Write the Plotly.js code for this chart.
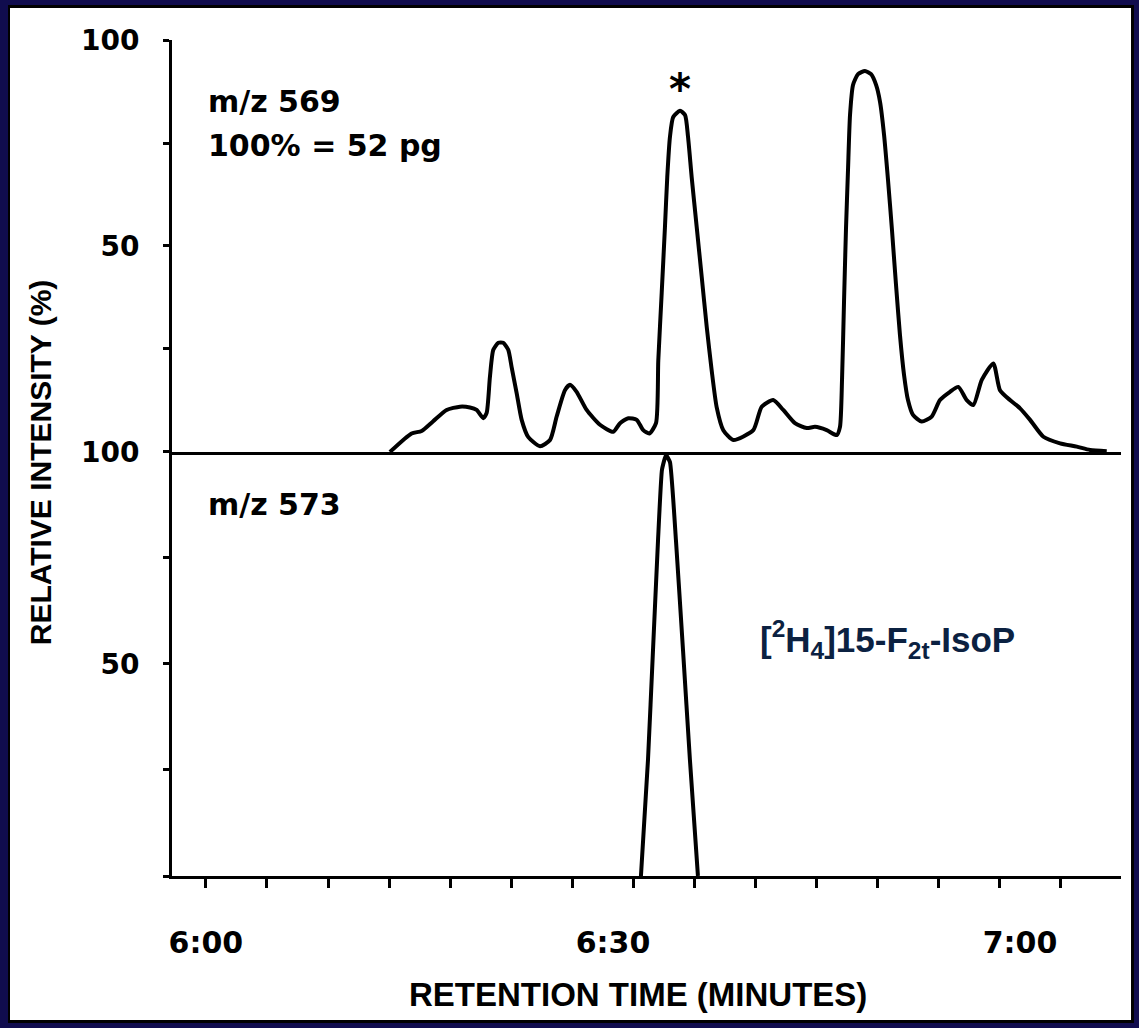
<!DOCTYPE html>
<html>
<head>
<meta charset="utf-8">
<script src="https://cdn.plot.ly/plotly-3.0.1.min.js"></script>
<style>
  html, body { margin: 0; padding: 0; background: #100c4e; width: 1139px; height: 1028px; overflow: hidden; }
  #frame { position: absolute; left: 8px; top: 5px; width: 1126px; height: 1018px; box-sizing: border-box; border: 3px solid #000; background: #fff; }
  #plot { position: absolute; left: 10px; top: 8px; width: 1121px; height: 1012px; }
</style>
</head>
<body>
<div id="frame"></div>
<div id="plot"></div>
<script>
// Retention time in seconds after 6:00 min
const upperTime = [13.56, 15.16, 15.90, 16.73, 17.74, 18.72, 19.46, 19.95, 20.44, 20.69, 20.93, 21.18, 21.55, 21.91, 22.28, 22.53, 22.90, 23.27, 23.76, 24.62, 25.36, 25.85, 26.46, 26.83, 27.32, 28.06, 29.04, 30.02, 30.52, 31.13, 31.75, 32.23, 32.68, 33.17, 33.34, 33.59, 33.83, 34.00, 34.20, 34.44, 34.94, 35.31, 35.53, 35.80, 36.17, 36.54, 36.91, 37.27, 37.64, 38.13, 38.87, 40.34, 40.96, 41.81, 42.55, 43.41, 44.28, 44.89, 45.75, 46.49, 46.73, 46.88, 47.03, 47.17, 47.32, 47.47, 47.69, 48.06, 48.57, 49.02, 49.39, 49.68, 49.98, 50.27, 50.56, 50.86, 51.15, 51.45, 51.74, 52.11, 52.75, 53.49, 54.10, 54.84, 55.45, 56.07, 56.56, 57.18, 58.03, 58.52, 59.26, 60.00, 60.74, 61.72, 62.95, 64.18, 65.16, 66.39];
// m/z 569 relative intensity (%)
const upperIntensity = [0, 4.5, 5.1, 7.4, 10.2, 11.0, 10.8, 10.2, 8.2, 9.5, 18.2, 24.8, 26.5, 26.5, 24.8, 20.6, 14.3, 7.8, 3.6, 1.4, 2.9, 8.6, 15.0, 16.3, 14.6, 10.2, 6.6, 4.9, 7.0, 8.2, 7.8, 5.3, 4.5, 7.0, 22.3, 38.6, 54.6, 66.7, 76.5, 81.3, 82.8, 81.8, 76.5, 66.7, 54.6, 42.5, 30.3, 19.9, 10.9, 5.3, 2.9, 5.3, 11.0, 12.6, 10.2, 7.0, 5.8, 6.1, 5.3, 4.1, 6.1, 17.5, 36.9, 53.9, 68.4, 81.8, 89.1, 91.7, 92.5, 91.7, 89.1, 85.0, 76.9, 66.0, 53.9, 40.5, 28.4, 18.7, 12.6, 9.0, 7.4, 8.6, 12.6, 14.6, 15.8, 12.6, 11.4, 17.5, 21.5, 15.0, 12.6, 10.6, 7.8, 3.7, 2.1, 1.3, 0.5, 0.2];
// m/z 573 ([2H4]15-F2t-IsoP internal standard)
const lowerTime = [32.06, 32.58, 32.95, 33.32, 33.61, 33.91, 34.20, 34.64, 35.16, 35.67, 36.26];
const lowerIntensity = [0, 27.4, 53.3, 79.2, 95.8, 99.3, 97.6, 79.2, 53.3, 27.4, 0];

const xTickVals = [0, 30, 60];
const xTickText = ['6:00', '6:30', '7:00'];
const yTickVals = [50, 100];
const yTickText = ['50', '100'];

const boldFont = { family: 'DejaVu Sans', size: 30, color: '#000', weight: 'bold' };
const split = 0.5072;

const traces = [
  { x: upperTime, y: upperIntensity, xaxis: 'x2', yaxis: 'y2', type: 'scatter', mode: 'lines',
    line: { color: '#000', width: 4, shape: 'spline', smoothing: 0.6 }, hoverinfo: 'skip' },
  { x: lowerTime, y: lowerIntensity, xaxis: 'x', yaxis: 'y', type: 'scatter', mode: 'lines',
    line: { color: '#000', width: 4, shape: 'spline', smoothing: 0.4 }, hoverinfo: 'skip' }
];

const yCommon = {
  range: [0, 100], showgrid: false, zeroline: false, showline: true, linewidth: 3, linecolor: '#000',
  tickmode: 'array', tickvals: yTickVals, ticktext: yTickText, ticks: 'outside', ticklen: 6, tickwidth: 3, tickcolor: '#000',
  minor: { tickmode: 'linear', tick0: 0, dtick: 25, ticks: 'outside', ticklen: 6, tickwidth: 3, tickcolor: '#000', showgrid: false },
  tickfont: { family: 'DejaVu Sans', size: 28, color: '#000', weight: 'bold' }, ticklabelstandoff: 18, fixedrange: true
};

const layout = {
  width: 1121, height: 1012,
  margin: { l: 162, r: 10, t: 32, b: 144 },
  paper_bgcolor: '#fff', plot_bgcolor: '#fff',
  showlegend: false,
  xaxis: {
    anchor: 'y', range: [-2.5, 67.44], showgrid: false, zeroline: false, showline: true, linewidth: 3, linecolor: '#000',
    tickmode: 'array', tickvals: xTickVals, ticktext: xTickText, ticks: '',
    minor: { tickmode: 'linear', tick0: 0, dtick: 4.5, ticks: 'outside', ticklen: 9, tickwidth: 3, tickcolor: '#000', showgrid: false },
    tickfont: { family: 'DejaVu Sans', size: 30, color: '#000', weight: 'bold' }, ticklabelstandoff: 38, fixedrange: true
  },
  xaxis2: {
    anchor: 'y2', matches: 'x', range: [-2.5, 67.44], showgrid: false, zeroline: false, showline: true, linewidth: 3, linecolor: '#000',
    showticklabels: false, ticks: '', fixedrange: true
  },
  yaxis: Object.assign({ domain: [0, split], anchor: 'x' }, yCommon),
  yaxis2: Object.assign({ domain: [split, 1], anchor: 'x2' }, yCommon),
  annotations: [
    { xref: 'x2', yref: 'y2', x: 0, y: 85, xanchor: 'left', yanchor: 'middle', showarrow: false, text: 'm/z 569', font: boldFont },
    { xref: 'x2', yref: 'y2', x: 0, y: 74.5, xanchor: 'left', yanchor: 'middle', showarrow: false, text: '100% = 52 pg', font: boldFont },
    { xref: 'x2', yref: 'y2', x: 34.94, y: 88, xanchor: 'center', yanchor: 'middle', showarrow: false, text: '*', font: { family: 'DejaVu Sans', size: 42, color: '#000', weight: 'bold' } },
    { xref: 'x', yref: 'y', x: 0, y: 87.5, xanchor: 'left', yanchor: 'middle', showarrow: false, text: 'm/z 573', font: boldFont },
    { xref: 'x', yref: 'y', x: 50.2, y: 55.7, xanchor: 'center', yanchor: 'middle', showarrow: false,
      text: '[<sup>2</sup>H<sub>4</sub>]15-F<sub>2t</sub>-IsoP', font: { family: 'Liberation Sans', size: 35, color: '#0b2141', weight: 'bold' } },
    { xref: 'paper', yref: 'paper', x: -0.139, y: 0.495, xanchor: 'center', yanchor: 'middle', textangle: -90, showarrow: false,
      text: 'RELATIVE INTENSITY (%)', font: { family: 'Liberation Sans', size: 30, color: '#000', weight: 'bold' } },
    { xref: 'paper', yref: 'paper', x: 0.491, y: -0.142, xanchor: 'center', yanchor: 'middle', showarrow: false,
      text: 'RETENTION TIME (MINUTES)', font: { family: 'Liberation Sans', size: 33, color: '#000', weight: 'bold' } }
  ]
};

Plotly.newPlot('plot', traces, layout, { staticPlot: true, displayModeBar: false });
</script>
</body>
</html>
